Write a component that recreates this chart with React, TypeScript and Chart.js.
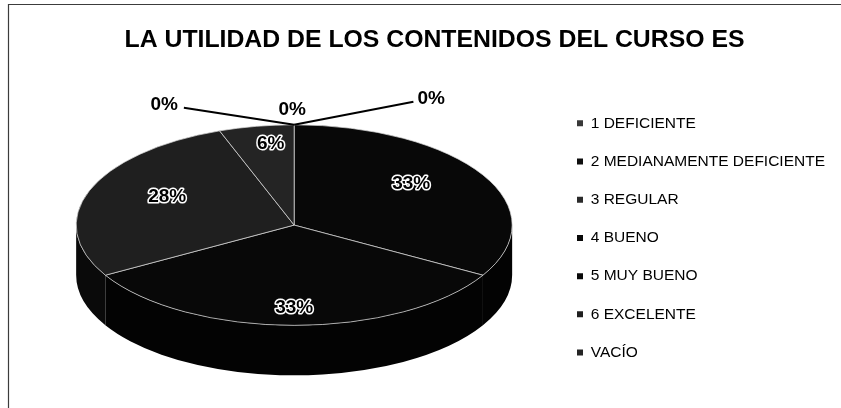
import React, { useEffect, useRef } from 'react';
import { Chart, registerables } from 'chart.js';

Chart.register(...registerables);

const TITLE = 'LA UTILIDAD DE LOS CONTENIDOS DEL CURSO ES';
const categories = [
  '1 DEFICIENTE',
  '2 MEDIANAMENTE DEFICIENTE',
  '3 REGULAR',
  '4 BUENO',
  '5 MUY BUENO',
  '6 EXCELENTE',
  'VACÍO',
];
const counts = [0, 0, 0, 6, 6, 5, 1];
const sliceColors = ['#383838', '#0e0e0e', '#2a2a2a', '#080808', '#080808', '#1f1f1f', '#242424'];
const sideColors = ['#1a1a1a', '#050505', '#151515', '#030303', '#030303', '#0a0a0a', '#0e0e0e'];

const FONT = '"Liberation Sans", Arial, Helvetica, sans-serif';
const PIE_RADIUS = 218;
const TILT = 0.46;
const DEPTH = 50;
const ZERO_LABEL_OFFSETS = [
  [-130, -20],
  [-2, -15],
  [137, -26],
];

const total = counts.reduce((a, b) => a + b, 0);

const pie3d = {
  id: 'pie3d',
  beforeDraw(chart: any) {
    const ctx = chart.ctx;
    ctx.save();
    ctx.strokeStyle = '#3c3c3c';
    ctx.lineWidth = 1.2;
    ctx.beginPath();
    ctx.moveTo(8.5, chart.height);
    ctx.lineTo(8.5, 4.5);
    ctx.lineTo(chart.width, 4.5);
    ctx.stroke();
    ctx.restore();
  },
  beforeDatasetsDraw(chart: any) {
    const ctx = chart.ctx;
    const meta = chart.getDatasetMeta(0);
    ctx.save();
    meta.data.forEach((arc: any, i: number) => {
      const p = arc.getProps(['x', 'y', 'startAngle', 'endAngle', 'outerRadius'], true);
      const a = Math.max(p.startAngle, 0);
      const b = Math.min(p.endAngle, Math.PI);
      if (b <= a) return;
      const rx = p.outerRadius;
      const ry = p.outerRadius * TILT;
      ctx.beginPath();
      ctx.ellipse(p.x, p.y, rx, ry, 0, a, b, false);
      ctx.lineTo(p.x + Math.cos(b) * rx, p.y + Math.sin(b) * ry + DEPTH);
      ctx.ellipse(p.x, p.y + DEPTH, rx, ry, 0, b, a, true);
      ctx.closePath();
      ctx.fillStyle = sideColors[i];
      ctx.fill();
    });
    ctx.restore();
    const first = meta.data[0];
    ctx.save();
    ctx.translate(first.x, first.y);
    ctx.scale(1, TILT);
    ctx.translate(-first.x, -first.y);
  },
  afterDatasetsDraw(chart: any) {
    const ctx = chart.ctx;
    ctx.restore();
    const meta = chart.getDatasetMeta(0);
    ctx.save();
    ctx.font = `bold 19px ${FONT}`;
    ctx.textAlign = 'center';
    ctx.textBaseline = 'middle';
    let zi = 0;
    meta.data.forEach((arc: any, i: number) => {
      const v = counts[i];
      const txt = Math.round((v / total) * 100) + '%';
      const p = arc.getProps(['x', 'y', 'startAngle', 'endAngle', 'outerRadius'], true);
      const r = p.outerRadius;
      if (v > 0) {
        const m = (p.startAngle + p.endAngle) / 2;
        const lx = p.x + Math.cos(m) * r * 0.62;
        const ly = p.y + Math.sin(m) * r * TILT * 0.82;
        ctx.lineJoin = 'round';
        ctx.lineWidth = 3;
        ctx.strokeStyle = '#ffffff';
        ctx.strokeText(txt, lx, ly);
        ctx.fillStyle = '#000000';
        ctx.fillText(txt, lx, ly);
      } else {
        const ax = p.x + Math.cos(p.startAngle) * r;
        const ay = p.y + Math.sin(p.startAngle) * r * TILT;
        const off = ZERO_LABEL_OFFSETS[zi % ZERO_LABEL_OFFSETS.length];
        zi++;
        const lx = ax + off[0];
        const ly = ay + off[1];
        ctx.fillStyle = '#000000';
        ctx.fillText(txt, lx, ly);
        if (Math.abs(off[0]) > 30) {
          const w = ctx.measureText(txt).width;
          const sx = off[0] < 0 ? lx + w / 2 + 6 : lx - w / 2 - 4;
          ctx.beginPath();
          ctx.moveTo(sx, ly + 3);
          ctx.lineTo(ax, ay);
          ctx.strokeStyle = '#000000';
          ctx.lineWidth = 2;
          ctx.stroke();
        }
      }
    });
    ctx.restore();
  },
};

export default function App() {
  const ref = useRef<HTMLCanvasElement | null>(null);
  useEffect(() => {
    if (!ref.current) return;
    const chart = new Chart(ref.current, {
      type: 'pie',
      data: {
        labels: categories,
        datasets: [
          {
            data: counts,
            backgroundColor: sliceColors,
            borderColor: '#d8d8d8',
            borderWidth: 1,
            radius: PIE_RADIUS,
            clip: false as any,
          },
        ],
      },
      options: {
        responsive: false,
        animation: false,
        devicePixelRatio: 1,
        layout: { padding: { left: 34, right: 6, top: 10, bottom: 25 } },
        plugins: {
          tooltip: { enabled: false },
          title: {
            display: true,
            text: TITLE,
            color: '#000',
            font: { family: FONT, size: 24.8, weight: 'bold' },
            padding: { top: 15, bottom: 12.4 },
          },
          legend: {
            position: 'right',
            align: 'end',
            labels: {
              color: '#000',
              font: { family: FONT, size: 15.5 },
              boxWidth: 6,
              boxHeight: 6,
              padding: 22.7,
              generateLabels: (c: any) =>
                (Chart as any).overrides.pie.plugins.legend.labels
                  .generateLabels(c)
                  .map((l: any) => ({ ...l, lineWidth: 0 })),
            },
          },
        },
        events: [],
      },
      plugins: [pie3d],
    });
    return () => chart.destroy();
  }, []);
  return (
    <div style={{ position: 'fixed', left: 0, top: 0, width: 841, height: 408, background: '#fff' }}>
      <canvas ref={ref} width={841} height={408} style={{ display: 'block' }} />
    </div>
  );
}
